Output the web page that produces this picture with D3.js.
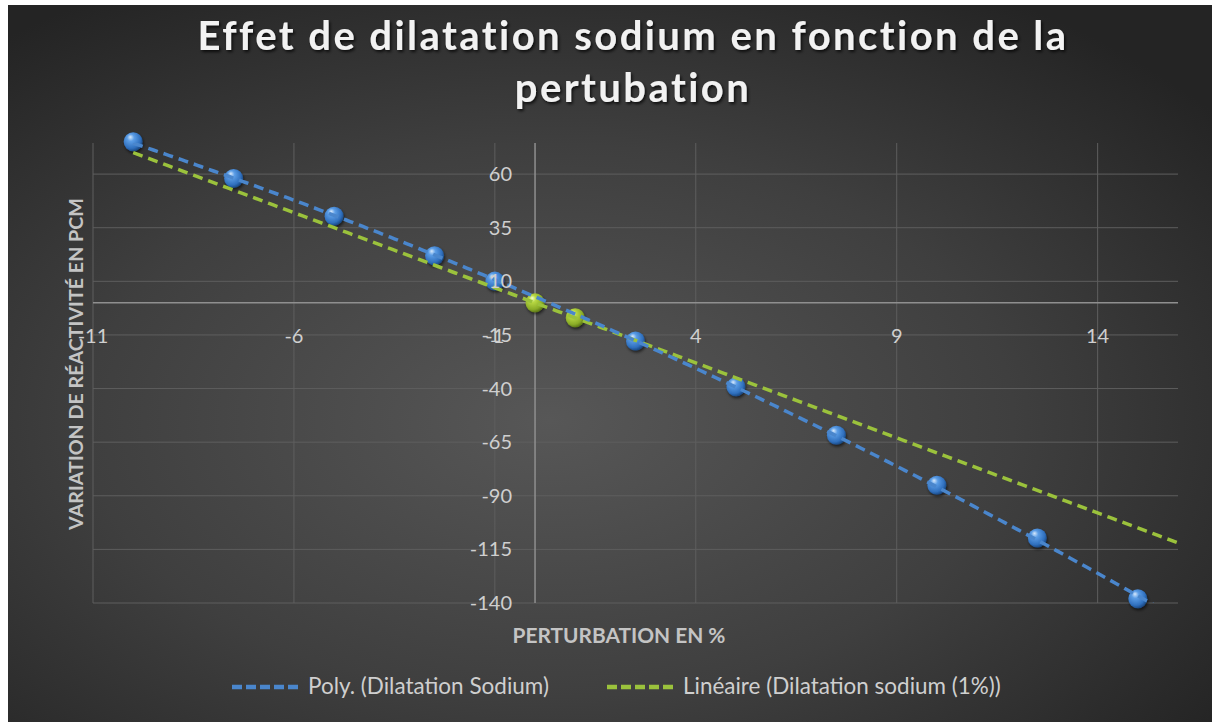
<!DOCTYPE html>
<html>
<head>
<meta charset="utf-8">
<script src="https://cdn.jsdelivr.net/npm/d3@7"></script>
<style>
  html, body { margin: 0; padding: 0; background: #ffffff; }
  svg { display: block; }
  text { font-family: Lato, "Open Sans", sans-serif; }
</style>
</head>
<body>
<svg id="chart" width="1212" height="722"></svg>
<script>
// ---------- data ----------
const titleLines = ["Effet de dilatation sodium en fonction de la", "pertubation"];
const xAxisTitle = "PERTURBATION EN %";
const yAxisTitle = "VARIATION DE RÉACTIVITÉ EN PCM";
const xTicks = [-11, -6, -1, 4, 9, 14];
const yTicks = [60, 35, 10, -15, -40, -65, -90, -115, -140];
const xDomain = [-11, 16];
const yDomain = [-140, 74.5];

const sodiumX = [-10, -7.5, -5, -2.5, -1, 2.5, 5, 7.5, 10, 12.5, 15];
const sodiumY = [75.1, 58.0, 40.4, 21.9, 10.1, -17.8, -39.2, -61.8, -85.1, -109.7, -138.0];
const sodium1X = [0, 1];
const sodium1Y = [0, -7.0];

const trendRange = [-10, 16];
const legendNames = ["Poly. (Dilatation Sodium)", "Linéaire (Dilatation sodium (1%))"];

// ---------- layout ----------
const svg = d3.select("#chart");
const W = 1212, H = 722;
const plot = { left: 93, right: 1178, top: 143, bottom: 603 };

const x = d3.scaleLinear().domain(xDomain).range([plot.left, plot.right]);
const y = d3.scaleLinear().domain(yDomain).range([plot.bottom, plot.top]);

const defs = svg.append("defs");

const bg = defs.append("radialGradient").attr("id", "bg")
  .attr("cx", "45%").attr("cy", "58%").attr("r", "70%");
bg.append("stop").attr("offset", "0%").attr("stop-color", "#575757");
bg.append("stop").attr("offset", "55%").attr("stop-color", "#3f3f3f");
bg.append("stop").attr("offset", "100%").attr("stop-color", "#242424");

function sphere(id, c0, c1, c2, c3) {
  const g = defs.append("radialGradient").attr("id", id)
    .attr("cx", "40%").attr("cy", "38%").attr("r", "62%")
    .attr("fx", "35%").attr("fy", "25%");
  g.append("stop").attr("offset", "0%").attr("stop-color", c0);
  g.append("stop").attr("offset", "30%").attr("stop-color", c1);
  g.append("stop").attr("offset", "80%").attr("stop-color", c2);
  g.append("stop").attr("offset", "100%").attr("stop-color", c3);
}
sphere("sphBlue", "#d6e8fb", "#5b9de6", "#2f6fbd", "#1c4b86");
sphere("sphGreen", "#f4ffd0", "#b8d843", "#8aac27", "#5f7a18");

const sh = defs.append("filter").attr("id", "shadow")
  .attr("x", "-50%").attr("y", "-50%").attr("width", "200%").attr("height", "200%");
sh.append("feDropShadow").attr("dx", 1).attr("dy", 2).attr("stdDeviation", 1.5)
  .attr("flood-color", "#000").attr("flood-opacity", 0.6);

const tsh = defs.append("filter").attr("id", "tshadow")
  .attr("x", "-10%").attr("y", "-30%").attr("width", "120%").attr("height", "160%");
tsh.append("feDropShadow").attr("dx", 1.5).attr("dy", 2).attr("stdDeviation", 1.5)
  .attr("flood-color", "#000").attr("flood-opacity", 0.75);

defs.append("clipPath").attr("id", "plotClip").append("rect")
  .attr("x", plot.left).attr("y", plot.top)
  .attr("width", plot.right - plot.left).attr("height", plot.bottom - plot.top);

// background
svg.append("rect").attr("x", 8).attr("y", 5).attr("width", W - 8).attr("height", H - 5)
  .attr("fill", "url(#bg)");

// ---------- gridlines ----------
const grid = svg.append("g");
grid.selectAll(".hg").data(yTicks).join("line")
  .attr("x1", plot.left).attr("x2", plot.right)
  .attr("y1", d => y(d)).attr("y2", d => y(d))
  .attr("stroke", "#5e5e5e").attr("stroke-width", 1);
grid.selectAll(".vg").data(xTicks).join("line")
  .attr("x1", d => x(d)).attr("x2", d => x(d))
  .attr("y1", plot.top).attr("y2", plot.bottom)
  .attr("stroke", "#5e5e5e").attr("stroke-width", 1);

// axis lines crossing at 0
svg.append("line").attr("x1", plot.left).attr("x2", plot.right)
  .attr("y1", y(0)).attr("y2", y(0)).attr("stroke", "#8f8f8f").attr("stroke-width", 1.5);
svg.append("line").attr("x1", x(0)).attr("x2", x(0))
  .attr("y1", plot.top).attr("y2", plot.bottom).attr("stroke", "#8f8f8f").attr("stroke-width", 1.5);

// ---------- markers ----------
const r = 9.5;
const blueData = sodiumX.map((v, i) => [v, sodiumY[i]]);
const greenData = sodium1X.map((v, i) => [v, sodium1Y[i]]);

svg.append("g").selectAll("circle").data(blueData).join("circle")
  .attr("cx", d => x(d[0])).attr("cy", d => y(d[1])).attr("r", r)
  .attr("fill", "url(#sphBlue)").attr("filter", "url(#shadow)");
svg.append("g").selectAll("circle").data(greenData).join("circle")
  .attr("cx", d => x(d[0])).attr("cy", d => y(d[1])).attr("r", r)
  .attr("fill", "url(#sphGreen)").attr("filter", "url(#shadow)");

// ---------- trendlines ----------
function polyFit2(xs, ys) {
  let s = Array(5).fill(0), t = Array(3).fill(0);
  xs.forEach((xv, i) => {
    for (let k = 0; k < 5; k++) s[k] += Math.pow(xv, k);
    for (let k = 0; k < 3; k++) t[k] += ys[i] * Math.pow(xv, k);
  });
  const M = [[s[0], s[1], s[2], t[0]], [s[1], s[2], s[3], t[1]], [s[2], s[3], s[4], t[2]]];
  for (let i = 0; i < 3; i++) {
    for (let j = i + 1; j < 3; j++) {
      const f = M[j][i] / M[i][i];
      for (let k = i; k < 4; k++) M[j][k] -= f * M[i][k];
    }
  }
  const c = [0, 0, 0];
  for (let i = 2; i >= 0; i--) {
    let v = M[i][3];
    for (let k = i + 1; k < 3; k++) v -= M[i][k] * c[k];
    c[i] = v / M[i][i];
  }
  return xv => c[0] + c[1] * xv + c[2] * xv * xv;
}
function linFit(xs, ys) {
  const mx = d3.mean(xs), my = d3.mean(ys);
  let num = 0, den = 0;
  xs.forEach((xv, i) => { num += (xv - mx) * (ys[i] - my); den += (xv - mx) ** 2; });
  const b = num / den, a = my - b * mx;
  return xv => a + b * xv;
}
const polyF = polyFit2(sodiumX, sodiumY);
const linF = linFit(sodium1X, sodium1Y);
const samples = d3.range(trendRange[0], trendRange[1] + 0.001, 0.1);
const line = d3.line().x(d => x(d[0])).y(d => y(d[1]));

const trends = svg.append("g").attr("clip-path", "url(#plotClip)");
trends.append("path").datum(samples.map(v => [v, linF(v)]))
  .attr("d", line).attr("fill", "none")
  .attr("stroke", "#9bc23c").attr("stroke-width", 3.5).attr("stroke-dasharray", "10,6");
trends.append("path").datum(samples.map(v => [v, polyF(v)]))
  .attr("d", line).attr("fill", "none")
  .attr("stroke", "#4a86cc").attr("stroke-width", 3.5).attr("stroke-dasharray", "10,6");

// ---------- tick labels ----------
const tickColor = "#cfcfcf";
svg.append("g").selectAll("text").data(xTicks).join("text")
  .attr("x", d => x(d)).attr("y", y(0) + 40)
  .attr("text-anchor", "middle").attr("font-size", 20).attr("fill", tickColor)
  .text(d => d);
svg.append("g").selectAll("text").data(yTicks).join("text")
  .attr("x", x(0) - 23).attr("y", d => y(d) + 7)
  .attr("text-anchor", "end").attr("font-size", 20).attr("fill", tickColor)
  .text(d => d);

// ---------- helpers ----------
function fitWidth(sel, target) {
  const w = sel.node().getComputedTextLength();
  const fs = parseFloat(sel.attr("font-size"));
  sel.attr("font-size", fs * target / w);
}

// ---------- title ----------
const title = svg.append("g").attr("filter", "url(#tshadow)");
const tl1 = title.append("text").attr("x", 633).attr("y", 50)
  .attr("text-anchor", "middle").attr("font-size", 40).attr("font-weight", "bold")
  .attr("fill", "#f2f2f2").text(titleLines[0]);
{
  const w0 = tl1.node().getComputedTextLength();
  const n = titleLines[0].length;
  const ls = Math.max(0, (871 - w0) / n);
  tl1.attr("letter-spacing", ls);
  title.append("text").attr("x", 633).attr("y", 102)
    .attr("text-anchor", "middle").attr("font-size", 40).attr("font-weight", "bold")
    .attr("letter-spacing", ls).attr("fill", "#f2f2f2").text(titleLines[1]);
}

// ---------- axis titles ----------
const xt = svg.append("text").attr("x", 619).attr("y", 643)
  .attr("text-anchor", "middle").attr("font-size", 19).attr("font-weight", "bold")
  .attr("fill", "#c4c4c4").text(xAxisTitle);
fitWidth(xt, 213);
const yt = svg.append("text").attr("transform", "translate(83,364) rotate(-90)")
  .attr("text-anchor", "middle").attr("font-size", 19).attr("font-weight", "bold")
  .attr("fill", "#c4c4c4").text(yAxisTitle);
fitWidth(yt, 332);

// ---------- legend ----------
const legend = svg.append("g");
const legendItems = [
  { name: legendNames[0], color: "#4a86cc", x0: 232, x1: 301, tx: 308, tw: 241 },
  { name: legendNames[1], color: "#9bc23c", x0: 607, x1: 676, tx: 683, tw: 318 }
];
legendItems.forEach(it => {
  legend.append("line").attr("x1", it.x0).attr("x2", it.x1)
    .attr("y1", 687).attr("y2", 687)
    .attr("stroke", it.color).attr("stroke-width", 4.5).attr("stroke-dasharray", "10,4");
  const t = legend.append("text").attr("x", it.tx).attr("y", 694)
    .attr("font-size", 20).attr("fill", "#cfcfcf").text(it.name);
  fitWidth(t, it.tw);
});
</script>
</body>
</html>
